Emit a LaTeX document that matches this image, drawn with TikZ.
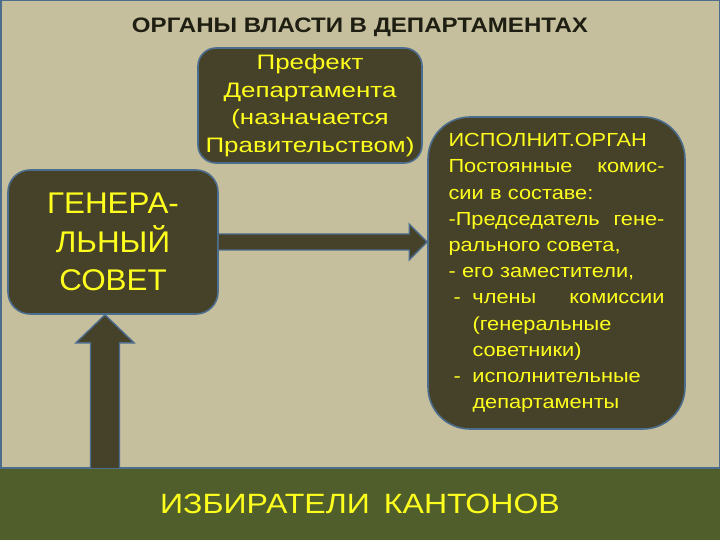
\documentclass[tikz,border=0pt]{standalone}
\usepackage{fontspec}
\setmainfont{Liberation Sans}
\newfontfamily\widefont[FakeStretch=1.15]{Liberation Sans}
\newfontfamily\prefectfont[FakeStretch=1.24]{Liberation Sans}
\newfontfamily\councilfont[FakeStretch=1.05]{Liberation Sans}
\usetikzlibrary{positioning,calc}

\definecolor{tanbg}{HTML}{C5BF9D}
\definecolor{boxfill}{HTML}{464229}
\definecolor{edgeblue}{HTML}{4D6D8E}
\definecolor{txtyellow}{HTML}{FFFF1E}
\definecolor{bandgreen}{HTML}{4F5E2B}
\definecolor{titledark}{HTML}{1E1E12}

\tikzset{
  panel/.style={draw=edgeblue, line width=1.6bp, fill=boxfill, text=txtyellow,
    align=center, inner sep=0pt},
  fatarrow/.style={draw=edgeblue, line width=1.4bp, fill=boxfill, line join=miter}
}

\begin{document}
\begin{tikzpicture}[x=1bp,y=-1bp]
        \useasboundingbox (0,0) rectangle (720,540);
        \fill[tanbg] (0,0) rectangle (720,540);
        \draw[edgeblue, line width=1.5bp] (0.75,0.75) rectangle (719.25,539.25);
        % title
        \node[text=titledark, font=\widefont\fontsize{21}{24}\selectfont\bfseries] (title) at (360,27)
          {ОРГАНЫ ВЛАСТИ В ДЕПАРТАМЕНТАХ};
        % boxes
        \node[panel, minimum width=224bp, minimum height=115bp, rounded corners=18bp,
          font=\prefectfont\fontsize{21}{27.7}\selectfont] (prefect) at (310,105.5)
          {Префект\\Департамента\\(назначается\\Правительством)};
        \node[panel, minimum width=210bp, minimum height=144bp, rounded corners=22bp,
          font=\councilfont\fontsize{30}{38.5}\selectfont] (council) at (113,242)
          {ГЕНЕРА-\\ЛЬНЫЙ\\СОВЕТ};
        \node[panel, minimum width=257bp, minimum height=312bp, rounded corners=42bp,
          text width=216bp, align=left, font=\widefont\fontsize{19}{26.3}\selectfont] (exec) at (556.5,273)
          {ИСПОЛНИТ.ОРГАН\\
           \leavevmode\hbox to 216bp{Постоянные\hfill комис-}\\
           сии в составе:\\
           \leavevmode\hbox to 216bp{-Председатель\hfill гене-}\\
           рального совета,\\
           - его заместители,\\
           \leavevmode\hbox to 216bp{\hbox to 24bp{\hspace{5bp}-\hfil}члены\hfill комиссии}\\
           \hspace*{24bp}(генеральные\\
           \hspace*{24bp}советники)\\
           \leavevmode\hbox to 24bp{\hspace{5bp}-\hfil}исполнительные\\
           \hspace*{24bp}департаменты};
        \node[fill=bandgreen, minimum width=720bp, minimum height=72bp, inner sep=0pt,
          text=txtyellow, font=\widefont\fontsize{28}{32}\selectfont] (voters) at (360,504)
          {ИЗБИРАТЕЛИ\hspace{14bp}КАНТОНОВ};
        \draw[edgeblue, line width=1.5bp] (voters.north west) -- (voters.north east);
        % arrows
        \coordinate (sidetip) at (council.east -| exec.west);
        \draw[fatarrow] ($(council.east)+(0,-8)$) -- ($(sidetip)+(-18,-8)$)
          -- ($(sidetip)+(-18,-18)$) -- (sidetip) -- ($(sidetip)+(-18,18)$)
          -- ($(sidetip)+(-18,8)$) -- ($(council.east)+(0,8)$);
        \coordinate[left = 8bp of council.south] (uptip);
        \draw[fatarrow] ($(uptip |- voters.north)+(-14.5,0)$) -- ($(uptip)+(-14.5,28)$)
          -- ($(uptip)+(-29,28)$) -- (uptip) -- ($(uptip)+(29,28)$)
          -- ($(uptip)+(14.5,28)$) -- ($(uptip |- voters.north)+(14.5,0)$);
      \end{tikzpicture}
\end{document}
